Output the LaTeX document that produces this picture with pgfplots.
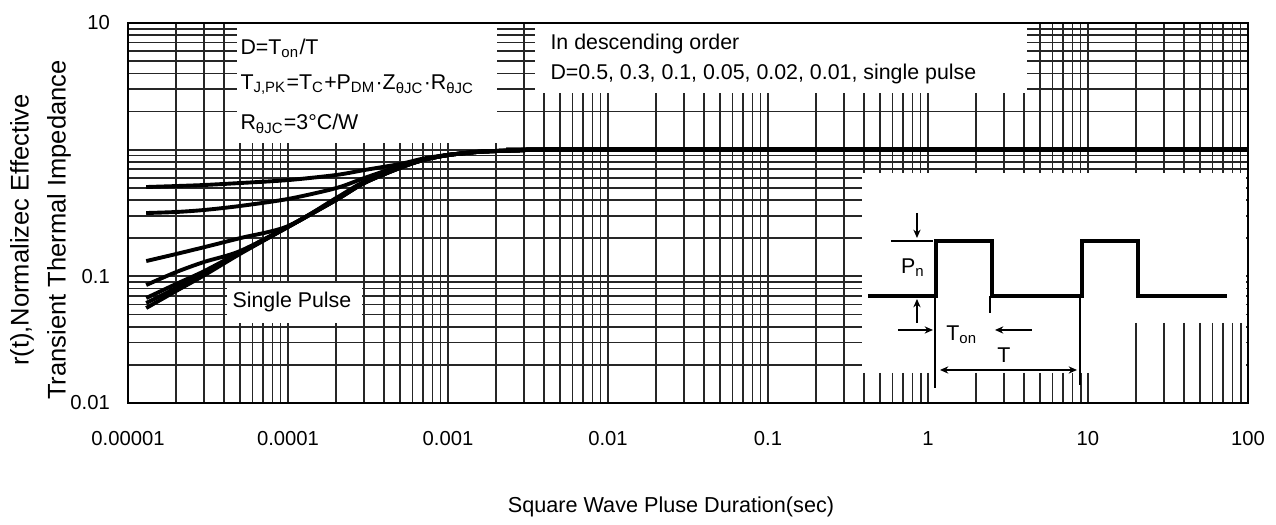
\documentclass[border=0pt]{standalone}
\usepackage{pgfplots}
\pgfplotsset{compat=1.18}
\usepackage{pgfplotstable}
\usepackage{fontspec}
\setmainfont{Liberation Sans}
\usetikzlibrary{arrows.meta}

\newcommand{\anno}{\fontsize{7.7}{9}\selectfont}
\newcommand{\ticks}{\fontsize{7.3}{9}\selectfont}

% transient thermal impedance r(t)
\pgfplotstableread{
t       d05    d03    d01    d005    d002    d001    sp
1.3e-5  0.507  0.316  0.132  0.0854  0.0674  0.0615  0.0562
2e-5    0.516  0.322  0.150  0.108   0.087   0.081   0.0766
3e-5    0.526  0.334  0.170  0.130   0.110   0.106   0.102
5e-5    0.545  0.359  0.200  0.158   0.155   0.152   0.150
1e-4    0.575  0.408  0.249  0.247   0.246   0.245   0.245
2e-4    0.631  0.497  0.415  0.405   0.402   0.401   0.400
3e-4    0.690  0.597  0.560  0.550   0.547   0.546   0.545
5e-4    0.770  0.743  0.729  0.720   0.718   0.717   0.716
7e-4    0.850  0.835  0.830  0.828   0.828   0.828   0.828
1e-3    0.910  0.908  0.906  0.906   0.906   0.906   0.906
1.5e-3  0.960  0.958  0.957  0.957   0.957   0.957   0.957
2e-3    0.977  0.976  0.975  0.975   0.975   0.975   0.975
3e-3    0.992  0.991  0.990  0.990   0.990   0.990   0.990
5e-3    1.0    1.0    1.0    1.0     1.0     1.0     1.0
100     1.0    1.0    1.0    1.0     1.0     1.0     1.0
}\zth

\begin{document}
\begin{tikzpicture}
\path[use as bounding box] (-46.14pt,-43.98pt) rectangle (413.86pt,145.28pt);
\begin{axis}[
    at={(0pt,0pt)}, anchor=south west,
    scale only axis,
    width=403.75pt, height=136.99pt,
    xmode=log, ymode=log,
    xmin=1e-5, xmax=100,
    ymin=0.01, ymax=10,
    % ticks
    xtick={1e-5,1e-4,1e-3,1e-2,1e-1,1,10,100},
    xticklabels={0.00001,0.0001,0.001,0.01,0.1,1,10,100},
    ytick={0.01,0.1,1,10},
    yticklabels={0.01,0.1,,10},
    tick label style={font=\ticks},
    xticklabel style={anchor=base, yshift=-15.5pt},
    yticklabel style={anchor=east, xshift=-3pt},
    major tick length=0pt, minor tick length=0pt,
    % grid
    grid=both,
    major grid style={black!85, line width=0.7pt},
    minor grid style={black!85, line width=0.6pt},
    axis line style={black, line width=0.8pt},
    zcurve/.style={black, line width=1.4pt, smooth, no marks},
  ]
  \addplot[zcurve] table[x=t, y=d05]  {\zth};
  \addplot[zcurve] table[x=t, y=d03]  {\zth};
  \addplot[zcurve] table[x=t, y=d01]  {\zth};
  \addplot[zcurve] table[x=t, y=d005] {\zth};
  \addplot[zcurve] table[x=t, y=d002] {\zth};
  \addplot[zcurve] table[x=t, y=d001] {\zth};
  \addplot[zcurve] table[x=t, y=sp]   {\zth};
  \addplot[black, no marks, line width=1.9pt] coordinates {(4e-3,1.0) (100,1.0)};
\end{axis}

% annotations in reference pixel units
\begin{scope}[x=0.36049pt, y=-0.36049pt, shift={(-46.14pt,145.28pt)}]
  % blank boxes over the grid
  \fill[white] (237,24.5) rectangle (497,143);
  \fill[white] (535,24.5) rectangle (1027,93);
  \fill[white] (227,283) rectangle (362,323);
  \fill[white] (862,173) rectangle (1246.5,401.5);
  \foreach \x in {864.3,879.8,892.5,903.2,912.5,920.7,976.2,1004.3,1024.3,1039.8,1052.5,1063.2,1072.5,1080.7}
    \draw[black!85, line width=0.6pt] (\x,373) -- (\x,402);
  \foreach \x in {928,1088}
    \draw[black!85, line width=0.7pt] (\x,373) -- (\x,402);
  \foreach \x in {1136.2,1164.3,1184.3,1199.8,1212.5,1223.2,1232.5,1240.7}
    \draw[black!85, line width=0.6pt] (\x,323) -- (\x,402);

  % text blocks
  \node[anchor=base west, inner sep=0, font=\anno] at (240,55) {D=T\textsubscript{on}/T};
  \node[anchor=base west, inner sep=0, font=\anno] at (240,90)
    {T\textsubscript{J,PK}=T\textsubscript{C}+P\textsubscript{DM}·Z\textsubscript{θJC}·R\textsubscript{θJC}};
  \node[anchor=base west, inner sep=0, font=\anno] at (240,130) {R\textsubscript{θJC}=3°C/W};
  \node[anchor=base west, inner sep=0, font=\anno] at (550,50) {In descending order};
  \node[anchor=base west, inner sep=0, font=\anno] at (550,80) {D=0.5, 0.3, 0.1, 0.05, 0.02, 0.01, single pulse};
  \node[anchor=base west, inner sep=0, font=\anno] at (232,308) {Single Pulse};

  % pulse train inset
  \draw[line width=1.4pt] (868,296) -- (936,296) -- (936,241) -- (992,241) -- (992,296)
    -- (1082,296) -- (1082,241) -- (1138,241) -- (1138,296) -- (1227,296);
  \begin{scope}[line width=0.6pt, >={Stealth[length=3pt,width=2.6pt]}]
    \draw (891,241) -- (933,241);
    \draw[->] (917,213) -- (917,238);
    \draw[->] (917,323) -- (917,299);
    \draw[->] (898,330) -- (933,330);
    \draw[->] (1032,330) -- (995,330);
    \draw (935,296) -- (935,388);
    \draw (990,296) -- (990,313);
    \draw (1080,296) -- (1080,385);
    \draw[<->] (940,370) -- (1077,370);
  \end{scope}
  \node[font=\anno] at (913,268) {P\textsubscript{n}};
  \node[font=\anno] at (962,335) {T\textsubscript{on}};
  \node[font=\anno] at (1004,355) {T};

  % axis titles
  \node[rotate=90, font=\fontsize{9.2}{11}\selectfont] at (22,230) {r(t),Normalizec Effective};
  \node[rotate=90, font=\fontsize{9.2}{11}\selectfont] at (59,230) {Transient Thermal Impedance};
  \node[anchor=base, font=\fontsize{7.8}{9}\selectfont] at (671,513) {Square Wave Pluse Duration(sec)};
\end{scope}
\end{tikzpicture}
\end{document}
